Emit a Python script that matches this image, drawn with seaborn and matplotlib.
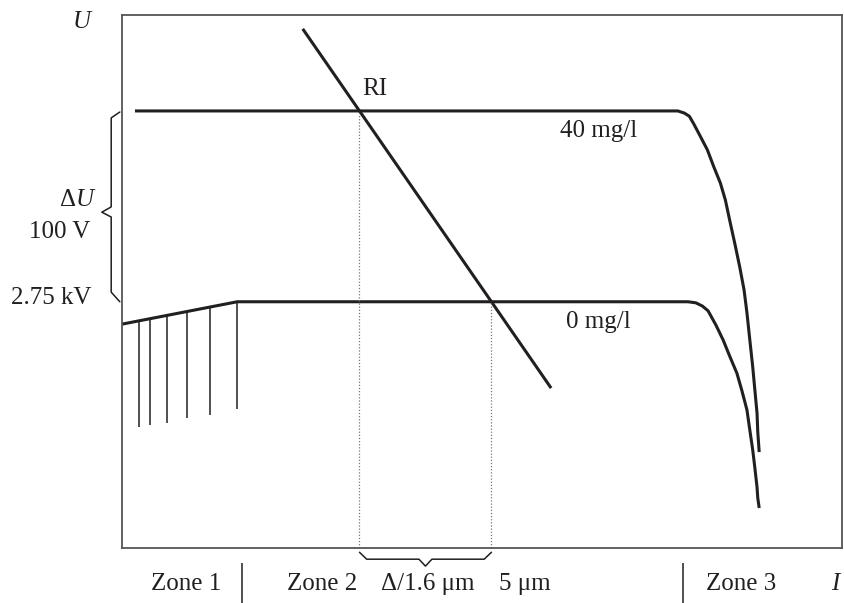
import numpy as np
import pandas as pd
import matplotlib.pyplot as plt
import seaborn as sns

# Curve data (I on x, U on y, both in relative units 0-100)
curve40_x = [1.8, 77.2, 78.1, 78.8, 79.4, 80.3, 81.3, 82.2, 83.1, 83.8, 84.4,
             85.1, 85.8, 86.4, 86.8, 87.2, 87.6, 87.9, 88.2, 88.3, 88.5]
curve40_y = [82.0, 82.0, 81.6, 81.0, 79.6, 77.3, 74.7, 71.5, 68.5, 65.3, 61.5,
             57.2, 52.7, 48.4, 44.1, 39.0, 34.0, 29.6, 25.3, 21.8, 18.0]

curve0_x = [0.0, 16.0, 78.6, 79.7, 80.6, 81.4, 82.5, 83.5, 84.4, 85.4, 86.1,
            86.8, 87.2, 87.6, 87.9, 88.2, 88.3, 88.5]
curve0_y = [42.0, 46.2, 46.2, 46.0, 45.4, 44.5, 41.8, 39.0, 36.0, 32.8, 29.5,
            25.9, 22.1, 18.4, 15.0, 11.4, 9.4, 7.5]

ri_x = [25.1, 59.6]
ri_y = [97.4, 30.0]

hatch_x = [2.4, 3.9, 6.25, 9.0, 12.2, 16.0]
hatch_bottom = [22.7, 23.1, 23.5, 24.4, 25.0, 26.1]

zone_labels = ["Zone 1", "Zone 2", "Δ/1.6 μm", "5 μm", "Zone 3"]
zone_label_x = [8.9, 27.8, 42.4, 56.0, 86.0]
zone_sep_x = [16.7, 77.9]

sns.set_style("white")
plt.rcParams['font.family'] = ['Liberation Serif', 'DejaVu Serif']
plt.rcParams['mathtext.fontset'] = 'custom'
plt.rcParams['mathtext.it'] = 'Liberation Serif:italic'
plt.rcParams['mathtext.rm'] = 'Liberation Serif'

ink = "#231f20"
fs = 18

fig = plt.figure(figsize=(8.45, 6.03), dpi=100)
ax = fig.add_axes([122 / 845, 55 / 603, 720 / 845, 533 / 603])

df40 = pd.DataFrame({"I": curve40_x, "U": curve40_y})
df0 = pd.DataFrame({"I": curve0_x, "U": curve0_y})
kw = dict(sort=False, estimator=None, color=ink, lw=2.2, ax=ax,
          solid_joinstyle="round", solid_capstyle="butt")
sns.lineplot(data=df40, x="I", y="U", **kw)
sns.lineplot(data=df0, x="I", y="U", **kw)
sns.lineplot(x=ri_x, y=ri_y, **kw)

# hatching under the rising part of the 0 mg/l curve
hatch_top = np.interp(hatch_x, curve0_x[:2], curve0_y[:2])
ax.vlines(hatch_x, hatch_bottom, hatch_top, color=ink, lw=1.1)

# dotted lines where RI crosses the two plateaus
lvl40 = curve40_y[0]
lvl0 = curve0_y[1]
x40 = np.interp(lvl40, ri_y[::-1], ri_x[::-1])
x0 = np.interp(lvl0, ri_y[::-1], ri_x[::-1])
ax.vlines([x40], 0, lvl40, color="#777777", lw=0.9, linestyles=(0, (1, 1.5)))
ax.vlines([x0], 0, lvl0, color="#777777", lw=0.9, linestyles=(0, (1, 1.5)))

ax.set_xlim(0, 100)
ax.set_ylim(0, 100)
ax.set_xticks([])
ax.set_yticks([])
ax.set_xlabel("")
ax.set_ylabel("")
for s in ax.spines.values():
    s.set_visible(True)
    s.set_color("#555555")
    s.set_linewidth(1.3)

# curve labels
ax.text(66.2, 78.2, "40 mg/l", fontsize=fs, ha="center", va="center", color=ink)
ax.text(66.2, 42.4, "0 mg/l", fontsize=fs, ha="center", va="center", color=ink)
ax.text(35.1, 86.1, "RI", fontsize=fs, ha="center", va="center", color=ink)

# left side labels and brace
ax.text(-5.4, 98.7, "$U$", fontsize=fs, ha="center", va="center", color=ink, clip_on=False)
ax.text(-3.5, 65.3, "Δ$U$", fontsize=fs, ha="right", va="center", color=ink, clip_on=False)
ax.text(-4.4, 59.3, "100 V", fontsize=fs, ha="right", va="center", color=ink, clip_on=False)
ax.text(-4.2, 46.9, "2.75 kV", fontsize=fs, ha="right", va="center", color=ink, clip_on=False)
bx = [-0.3, -1.5, -1.5, -2.8, -1.5, -1.5, -0.3]
by = [81.8, 80.7, 64.0, 63.0, 62.1, 48.0, 46.2]
ax.plot(bx, by, color=ink, lw=1.1, clip_on=False)

# bottom brace between the dotted lines
mid = (x40 + x0) / 2
ax.plot([x40, x40 + 1.0, mid - 0.9, mid, mid + 0.9, x0 - 1.0, x0],
        [-0.8, -2.1, -2.1, -3.4, -2.1, -2.1, -0.8], color=ink, lw=1.1, clip_on=False)

# zone labels along the bottom
for lab, xx in zip(zone_labels, zone_label_x):
    ax.text(xx, -6.8, lab, fontsize=fs, ha="center", va="center", color=ink, clip_on=False)
ax.text(99.3, -6.8, "$I$", fontsize=fs, ha="center", va="center", color=ink, clip_on=False)
ax.vlines(zone_sep_x, -2.8, -10.3, color=ink, lw=1.1, clip_on=False)

fig.savefig("out.png", dpi=100)
